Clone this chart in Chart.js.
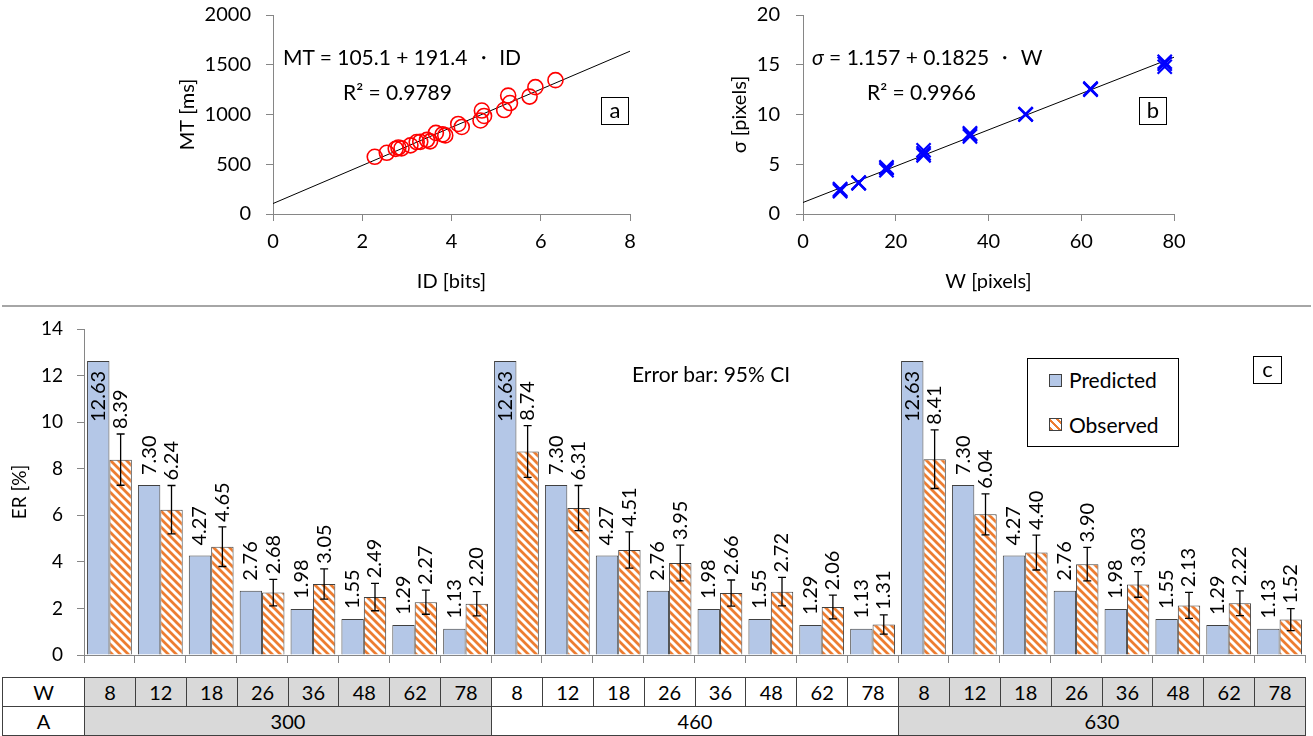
<!DOCTYPE html>
<html>
<head>
<meta charset="utf-8">
<script src="https://cdn.jsdelivr.net/npm/chart.js@4/dist/chart.umd.min.js"></script>
<style>
  html, body { margin: 0; padding: 0; background: #fff; }
  body { width: 1313px; height: 736px; position: relative; overflow: hidden; font-family: Lato, "Liberation Sans", sans-serif; color: #000; }
  canvas { position: absolute; }
  .txt { position: absolute; white-space: nowrap; font-size: 21px; line-height: 26px; }
  .tag { position: absolute; border: 1.5px solid #000; box-sizing: border-box; text-align: center; font-size: 22px; line-height: 24px; background: #fff; }
  .sep { position: absolute; left: 2px; top: 305px; width: 1309px; height: 2px; background: #a6a6a6; }
  .legend { position: absolute; left: 1027px; top: 358px; width: 152px; height: 89px; border: 1.5px solid #000; box-sizing: border-box; background: #fff; }
  .sw { position: absolute; width: 13px; height: 13px; border: 1px solid #404040; box-sizing: border-box; }
  table { position: absolute; left: 2px; top: 677px; border-collapse: collapse; table-layout: fixed; width: 1303px; font-size: 20px; }
  td { border: 1px solid #404040; height: 28px; padding: 0; text-align: center; line-height: 28px; }
  td.g { background: #d9d9d9; }
</style>
</head>
<body>
<canvas id="chartA" width="490" height="300" style="left:160px;top:0"></canvas>
<canvas id="chartB" width="500" height="300" style="left:700px;top:0"></canvas>
<div class="sep"></div>
<canvas id="chartC" width="1313" height="360" style="left:0;top:310px"></canvas>

<div class="txt" style="left:283px;top:44px">MT = 105.1 + 191.4 ・ ID</div>
<div class="txt" style="left:343px;top:79px">R² = 0.9789</div>
<div class="tag" style="left:601px;top:97px;width:28px;height:28px">a</div>

<div class="txt" style="left:812px;top:44px"><i>σ</i> = 1.157 + 0.1825 ・ W</div>
<div class="txt" style="left:867px;top:79px">R² = 0.9966</div>
<div class="tag" style="left:1139px;top:97px;width:28px;height:28px">b</div>

<div class="txt" style="left:632px;top:361px">Error bar: 95% CI</div>
<div class="legend">
  <div class="sw" style="left:21px;top:15px;background:#b4c7e7"></div>
  <div class="txt" style="left:41px;top:8px">Predicted</div>
  <div class="sw" style="left:21px;top:59px;background:repeating-linear-gradient(45deg,#ed7d31 0 2.8px,#fff 2.8px 5.66px)"></div>
  <div class="txt" style="left:41px;top:53px">Observed</div>
</div>
<div class="tag" style="left:1253px;top:356px;width:29px;height:28px">c</div>

<table id="tableWA"></table>

<script>
// ---- panel a : movement time vs index of difficulty
const idValues = [2.28, 2.55, 2.75, 2.81, 2.88, 3.08, 3.22, 3.30, 3.45, 3.52, 3.65, 3.80,
  3.86, 4.15, 4.23, 4.65, 4.68, 4.73, 5.18, 5.27, 5.31, 5.75, 5.88, 6.33];
const mtValues = [575, 615, 655, 668, 660, 690, 723, 725, 745, 730, 815, 800,
  790, 905, 875, 940, 1040, 985, 1045, 1190, 1115, 1180, 1275, 1345];
const fitA = { a: 105.1, b: 191.4 };

// ---- panel b : sigma vs target width
const wValues = [8, 8, 8, 12, 12, 12, 18, 18, 18, 26, 26, 26, 36, 36, 36, 48, 48, 48, 62, 62, 62, 78, 78, 78];
const sigmaValues = [2.3, 2.5, 2.4, 3.1, 3.15, 3.1, 4.4, 4.6, 4.7, 5.9, 6.1, 6.4,
  7.8, 8.0, 8.1, 10.0, 10.05, 10.0, 12.5, 12.6, 12.55, 14.8, 15.1, 15.3];
const fitB = { a: 1.157, b: 0.1825 };

// ---- panel c : error rates
const wLabels = ["8", "12", "18", "26", "36", "48", "62", "78"];
const aLabels = ["300", "460", "630"];
const predicted = [12.63, 7.30, 4.27, 2.76, 1.98, 1.55, 1.29, 1.13,
  12.63, 7.30, 4.27, 2.76, 1.98, 1.55, 1.29, 1.13,
  12.63, 7.30, 4.27, 2.76, 1.98, 1.55, 1.29, 1.13];
const observed = [8.39, 6.24, 4.65, 2.68, 3.05, 2.49, 2.27, 2.20,
  8.74, 6.31, 4.51, 3.95, 2.66, 2.72, 2.06, 1.31,
  8.41, 6.04, 4.40, 3.90, 3.03, 2.13, 2.22, 1.52];
const ciObserved = [1.10, 1.04, 0.85, 0.57, 0.65, 0.59, 0.52, 0.52,
  1.11, 0.97, 0.78, 0.77, 0.56, 0.61, 0.51, 0.41,
  1.26, 0.88, 0.75, 0.72, 0.55, 0.56, 0.53, 0.47];

Chart.defaults.font.family = "Lato";
Chart.defaults.color = "#000";
Chart.defaults.animation = false;
Chart.defaults.plugins.legend.display = false;
Chart.defaults.plugins.tooltip.enabled = false;

const AXIS = "#868686";

function axisX(min, max, step, title) {
  return {
    type: "linear", min, max,
    ticks: { stepSize: step, font: { size: 20 }, padding: 9 },
    grid: { drawOnChartArea: false, tickLength: 7, color: AXIS },
    border: { color: AXIS },
    title: { display: true, text: title, font: { size: 20 }, padding: { top: 0, bottom: 6 } },
    afterFit: (s) => { s.height = 86; },
  };
}
function axisY(min, max, step, title, width, padTicks, padTitle) {
  return {
    min, max,
    ticks: { stepSize: step, font: { size: 20 }, padding: padTicks, callback: (v) => String(v) },
    grid: { drawOnChartArea: false, tickLength: 7, color: AXIS },
    border: { color: AXIS },
    title: { display: true, text: title, font: { size: 20 }, padding: { top: padTitle, bottom: 0 } },
    afterFit: (s) => { s.width = width; s.paddingTop = 0; s.paddingBottom = 0; },
  };
}

// ---- chart a
new Chart(document.getElementById("chartA"), {
  type: "scatter",
  data: {
    datasets: [
      {
        data: idValues.map((x, i) => ({ x, y: mtValues[i] })),
        pointStyle: "circle", pointRadius: 7.5, borderWidth: 1.6,
        borderColor: "#ff0000", backgroundColor: "rgba(0,0,0,0)",
      },
      {
        data: [0, 8].map((x) => ({ x, y: fitA.a + fitA.b * x })),
        showLine: true, borderColor: "#000", borderWidth: 1, pointRadius: 0,
      },
    ],
  },
  options: {
    responsive: false,
    layout: { padding: { top: 15, right: 20, left: 0, bottom: 0 }, autoPadding: false },
    scales: {
      x: axisX(0, 8, 2, "ID [bits]"),
      y: axisY(0, 2000, 500, "MT [ms]", 113, 15, 16),
    },
  },
});

// ---- chart b
new Chart(document.getElementById("chartB"), {
  type: "scatter",
  data: {
    datasets: [
      {
        data: wValues.map((x, i) => ({ x, y: sigmaValues[i] })),
        pointStyle: "crossRot", pointRadius: 10, borderWidth: 2.2,
        borderColor: "#0000ff", backgroundColor: "#0000ff",
      },
      {
        data: [0, 80].map((x) => ({ x, y: fitB.a + fitB.b * x })),
        showLine: true, borderColor: "#000", borderWidth: 1, pointRadius: 0,
      },
    ],
  },
  options: {
    responsive: false,
    layout: { padding: { top: 15, right: 26, left: 0, bottom: 0 }, autoPadding: false },
    scales: {
      x: axisX(0, 80, 20, "W [pixels]"),
      y: axisY(0, 20, 5, "σ [pixels]", 103, 16, 28),
    },
  },
});

// ---- chart c
function hatchPattern() {
  const c = document.createElement("canvas");
  c.width = c.height = 8;
  const g = c.getContext("2d");
  g.fillStyle = "#fff";
  g.fillRect(0, 0, 8, 8);
  g.strokeStyle = "#ed7d31";
  g.lineWidth = 2.8;
  g.beginPath();
  g.moveTo(-2, -2); g.lineTo(10, 10);
  g.moveTo(-2, 6); g.lineTo(2, 10);
  g.moveTo(6, -2); g.lineTo(10, 2);
  g.stroke();
  return g.createPattern(c, "repeat");
}

const barLabelsAndErrors = {
  id: "barLabelsAndErrors",
  afterDatasetsDraw(chart) {
    const { ctx, scales: { y }, chartArea } = chart;
    ctx.save();
    // error bars
    ctx.strokeStyle = "#000";
    ctx.lineWidth = 1.3;
    chart.getDatasetMeta(1).data.forEach((bar, i) => {
      const top = y.getPixelForValue(observed[i] + ciObserved[i]);
      const bot = y.getPixelForValue(observed[i] - ciObserved[i]);
      ctx.beginPath();
      ctx.moveTo(bar.x, top); ctx.lineTo(bar.x, bot);
      ctx.moveTo(bar.x - 4, top); ctx.lineTo(bar.x + 4, top);
      ctx.moveTo(bar.x - 4, bot); ctx.lineTo(bar.x + 4, bot);
      ctx.stroke();
    });
    // rotated value labels
    ctx.fillStyle = "#000";
    ctx.font = "20px Lato";
    ctx.textBaseline = "middle";
    const put = (x, yy, text, align) => {
      ctx.save();
      ctx.translate(x, yy);
      ctx.rotate(-Math.PI / 2);
      ctx.textAlign = align;
      ctx.fillText(text, 0, 0);
      ctx.restore();
    };
    chart.getDatasetMeta(0).data.forEach((bar, i) => {
      const text = predicted[i].toFixed(2);
      const w = ctx.measureText(text).width;
      if (bar.y - 10 - w < chartArea.top) put(bar.x, bar.y + 10, text, "right");
      else put(bar.x, bar.y - 10, text, "left");
    });
    chart.getDatasetMeta(1).data.forEach((bar, i) => {
      const top = y.getPixelForValue(observed[i] + ciObserved[i]);
      put(bar.x, top - 5, observed[i].toFixed(2), "left");
    });
    ctx.restore();
  },
};

const categories = aLabels.flatMap(() => wLabels);

new Chart(document.getElementById("chartC"), {
  type: "bar",
  data: {
    labels: categories,
    datasets: [
      {
        label: "Predicted",
        data: predicted,
        backgroundColor: "#b4c7e7",
        borderColor: "#404040",
        borderWidth: 1,
        categoryPercentage: 0.88,
        barPercentage: 1,
      },
      {
        label: "Observed",
        data: observed,
        backgroundColor: hatchPattern(),
        borderColor: "#404040",
        borderWidth: 1,
        categoryPercentage: 0.88,
        barPercentage: 1,
      },
    ],
  },
  options: {
    responsive: false,
    layout: { padding: { top: 19, right: 8, left: 0, bottom: 0 }, autoPadding: false },
    scales: {
      x: {
        ticks: { display: false },
        grid: { drawOnChartArea: false, offset: true, tickLength: 8, color: AXIS },
        border: { color: AXIS },
        afterFit: (s) => { s.height = 15; },
      },
      y: {
        min: 0, max: 14,
        ticks: { stepSize: 2, font: { size: 19 }, padding: 14 },
        grid: { drawOnChartArea: false, tickLength: 7, color: AXIS },
        border: { color: AXIS },
        title: { display: true, text: "ER [%]", font: { size: 19 }, padding: { top: 8, bottom: 0 } },
        afterFit: (s) => { s.width = 84; s.paddingTop = 0; s.paddingBottom = 0; },
      },
    },
  },
  plugins: [barLabelsAndErrors],
});

// ---- W / A table under panel c
const table = document.getElementById("tableWA");
const colW = 1221 / 24;
let html = '<colgroup><col style="width:82px">';
categories.forEach(() => { html += `<col style="width:${colW}px">`; });
html += "</colgroup><tr><td>W</td>";
aLabels.forEach((a, gi) => {
  wLabels.forEach((w) => { html += `<td class="${gi === 1 ? "" : "g"}">${w}</td>`; });
});
html += "</tr><tr><td>A</td>";
aLabels.forEach((a, gi) => {
  html += `<td colspan="${wLabels.length}" class="${gi === 1 ? "" : "g"}">${a}</td>`;
});
html += "</tr>";
table.innerHTML = html;
</script>
</body>
</html>
